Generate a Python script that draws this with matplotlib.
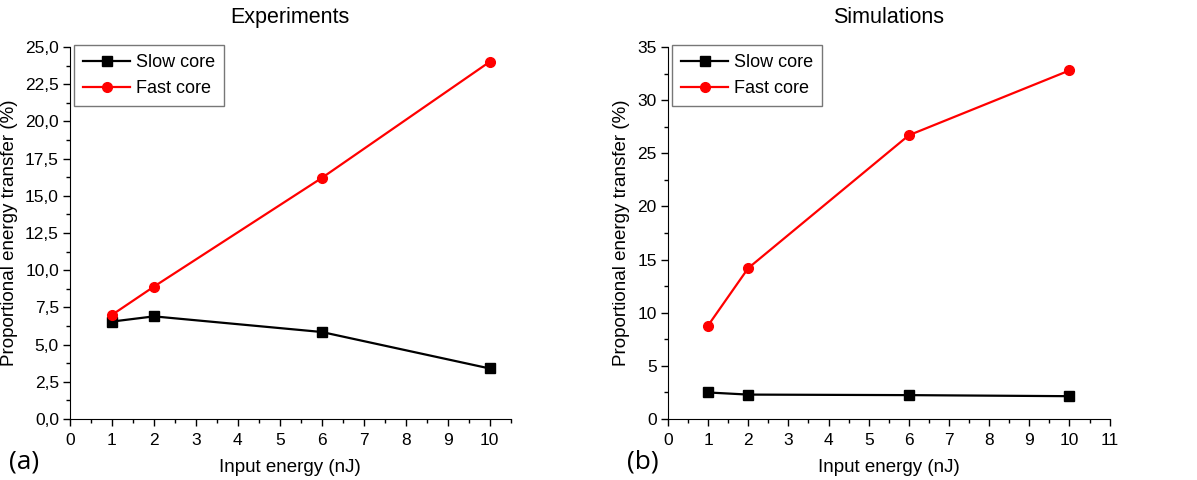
import matplotlib
matplotlib.use("Agg")
import matplotlib.pyplot as plt
from matplotlib.ticker import MultipleLocator, FuncFormatter

plt.rcParams["font.family"] = ["Liberation Sans", "DejaVu Sans"]

energy = [1, 2, 6, 10]
exp_slow = [6.55, 6.9, 5.85, 3.4]
exp_fast = [7.0, 8.9, 16.2, 24.0]
sim_slow = [2.5, 2.3, 2.25, 2.15]
sim_fast = [8.8, 14.2, 26.7, 32.8]

fig = plt.figure(figsize=(11.97, 4.8), dpi=100)
ax1 = fig.add_axes([0.0585, 0.127, 0.368, 0.775])
ax2 = fig.add_axes([0.558, 0.127, 0.369, 0.775])


def style(ax, xmax, ymax, ymaj, ymin, fmt, title, tag, tagx):
    for s in ("top", "right"):
        ax.spines[s].set_visible(False)
    ax.set_xlim(0, xmax)
    ax.set_ylim(0, ymax)
    ax.xaxis.set_major_locator(MultipleLocator(1))
    ax.xaxis.set_minor_locator(MultipleLocator(0.5))
    ax.yaxis.set_major_locator(MultipleLocator(ymaj))
    ax.yaxis.set_minor_locator(MultipleLocator(ymin))
    ax.yaxis.set_major_formatter(FuncFormatter(fmt))
    ax.tick_params(which="major", direction="out", length=5, width=1,
                   labelsize=12.5, pad=3)
    ax.tick_params(axis="x", which="major", pad=5)
    ax.tick_params(which="minor", direction="out", length=3, width=1)
    ax.set_xlabel("Input energy (nJ)", fontsize=13.5, labelpad=8)
    ax.set_ylabel("Proportional energy transfer (%)", fontsize=13.5, labelpad=5)
    ax.set_title(title, fontsize=15.5, pad=17)
    ax.text(tagx, -0.115, tag, transform=ax.transAxes, fontsize=19,
            family=["Open Sans", "DejaVu Sans"], ha="left", va="center")
    leg = ax.legend(loc="upper left", bbox_to_anchor=(0.01, 1.005),
                    fontsize=13, frameon=True, fancybox=False,
                    borderpad=0.5, handlelength=2.6, handletextpad=0.3,
                    labelspacing=0.5, borderaxespad=0)
    leg.get_frame().set_edgecolor("#555555")
    leg.get_frame().set_linewidth(1.0)


ax1.plot(energy, exp_slow, "-s", color="black", ms=7, lw=1.6, label="Slow core")
ax1.plot(energy, exp_fast, "-o", color="red", ms=7, lw=1.6, label="Fast core")
style(ax1, 10.5, 25, 2.5, 1.25, lambda v, p: f"{v:.1f}".replace(".", ","),
      "Experiments", "(a)", -0.138)

ax2.plot(energy, sim_slow, "-s", color="black", ms=7, lw=1.6, label="Slow core")
ax2.plot(energy, sim_fast, "-o", color="red", ms=7, lw=1.6, label="Fast core")
style(ax2, 11, 35, 5, 2.5, lambda v, p: f"{v:.0f}", "Simulations", "(b)", -0.092)

fig.savefig("out.png", dpi=100, facecolor="white")
